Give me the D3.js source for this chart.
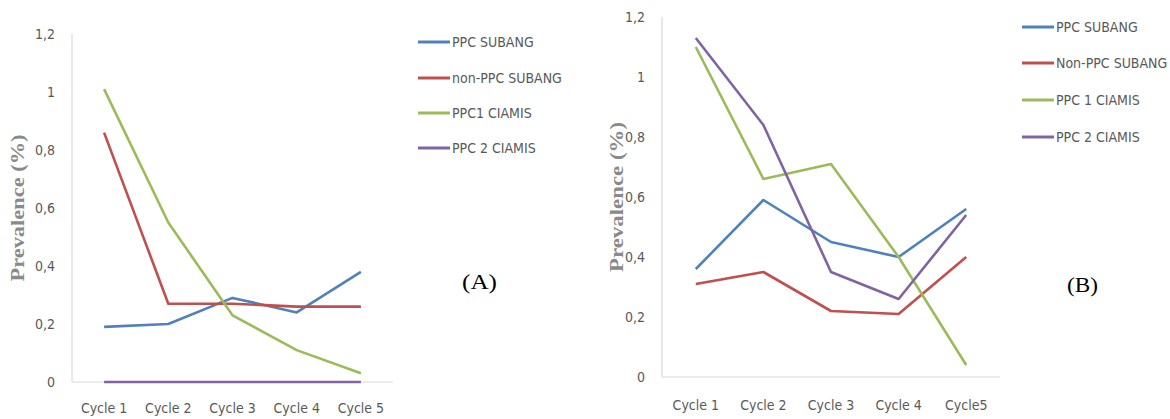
<!DOCTYPE html>
<html>
<head>
<meta charset="utf-8">
<script src="https://cdn.jsdelivr.net/npm/d3@7"></script>
<style>
    html, body { margin: 0; padding: 0; background: #fff; }
    svg { display: block; }
    .tick-label, .legend-label, .cat-label {
        font-family: 'Liberation Sans Narrow', 'DejaVu Sans Condensed', 'Open Sans', sans-serif;
        fill: #595959;
    }
    .y-title { font-family: 'Liberation Serif', 'DejaVu Serif', serif; fill: #8a8a8a; font-weight: bold; }
    .panel-tag { font-family: 'Liberation Serif', 'DejaVu Serif', serif; fill: #000; }
</style>
</head>
<body>
<svg id="chart" width="1170" height="419"></svg>
<script>
const cyclesA = ['Cycle 1', 'Cycle 2', 'Cycle 3', 'Cycle 4', 'Cycle 5'];
const cyclesB = ['Cycle 1', 'Cycle 2', 'Cycle 3', 'Cycle 4', 'Cycle5'];
const yTicks = [0, 0.2, 0.4, 0.6, 0.8, 1, 1.2];

const namesA = ['PPC SUBANG', 'non-PPC SUBANG', 'PPC1 CIAMIS', 'PPC 2 CIAMIS'];
const namesB = ['PPC SUBANG', 'Non-PPC SUBANG', 'PPC 1 CIAMIS', 'PPC 2 CIAMIS'];
const colors = ['#4f81bd', '#c0504d', '#9bbb59', '#8064a2'];

// panel A
const ppcSubangA = [0.19, 0.20, 0.29, 0.24, 0.38];
const nonPpcSubangA = [0.86, 0.27, 0.27, 0.26, 0.26];
const ppc1CiamisA = [1.01, 0.55, 0.23, 0.11, 0.03];
const ppc2CiamisA = [0, 0, 0, 0, 0];

// panel B
const ppcSubangB = [0.36, 0.59, 0.45, 0.40, 0.56];
const nonPpcSubangB = [0.31, 0.35, 0.22, 0.21, 0.40];
const ppc1CiamisB = [1.10, 0.66, 0.71, 0.40, 0.04];
const ppc2CiamisB = [1.13, 0.84, 0.35, 0.26, 0.54];

const svg = d3.select('#chart');
const fmt = v => String(v).replace('.', ',');

function drawPanel(cfg) {
    const g = svg.append('g');

    const x = d3.scaleBand()
        .domain(cfg.cycles)
        .range([cfg.left, cfg.right]);

    const y = d3.scaleLinear()
        .domain([0, 1.2])
        .range([cfg.bottom, cfg.top]);

    g.append('line')
        .attr('x1', cfg.left).attr('x2', cfg.left)
        .attr('y1', y(1.2)).attr('y2', y(0))
        .attr('stroke', '#d9d9d9').attr('stroke-width', 1.2);

    g.append('line')
        .attr('x1', cfg.left).attr('x2', cfg.right)
        .attr('y1', y(0)).attr('y2', y(0))
        .attr('stroke', '#d9d9d9').attr('stroke-width', 1.2);

    g.selectAll('.tick-label')
        .data(yTicks)
        .join('text')
        .attr('class', 'tick-label')
        .attr('x', cfg.left - 17)
        .attr('y', d => y(d))
        .attr('dy', '0.35em')
        .attr('text-anchor', 'end')
        .attr('font-size', 14)
        .text(fmt);

    g.selectAll('.cat-label')
        .data(cfg.cycles)
        .join('text')
        .attr('class', 'cat-label')
        .attr('x', d => x(d) + x.bandwidth() / 2)
        .attr('y', cfg.catY)
        .attr('dy', '0.35em')
        .attr('text-anchor', 'middle')
        .attr('font-size', 14)
        .text(d => d);

    g.append('text')
        .attr('class', 'y-title')
        .attr('transform', `translate(${cfg.titleX},${cfg.titleY}) rotate(-90)`)
        .attr('text-anchor', 'middle')
        .attr('dy', '0.35em')
        .attr('font-size', 18)
        .attr('textLength', cfg.titleLen)
        .attr('lengthAdjust', 'spacingAndGlyphs')
        .text('Prevalence (%)');

    const line = d3.line()
        .x((d, i) => x(cfg.cycles[i]) + x.bandwidth() / 2)
        .y(d => y(d));

    cfg.series.forEach((values, i) => {
        g.append('path')
            .datum(values)
            .attr('fill', 'none')
            .attr('stroke', colors[i])
            .attr('stroke-width', 2.6)
            .attr('stroke-linejoin', 'round')
            .attr('d', line);
    });

    const legend = g.append('g');
    cfg.names.forEach((name, i) => {
        const ly = cfg.legendY[i];
        legend.append('line')
            .attr('x1', cfg.legendX).attr('x2', cfg.legendX + 32)
            .attr('y1', ly).attr('y2', ly)
            .attr('stroke', colors[i])
            .attr('stroke-width', 3);
        legend.append('text')
            .attr('class', 'legend-label')
            .attr('x', cfg.legendX + 34)
            .attr('y', ly)
            .attr('dy', '0.35em')
            .attr('font-size', 14)
            .text(name);
    });

    g.append('text')
        .attr('class', 'panel-tag')
        .attr('x', cfg.tagX)
        .attr('y', cfg.tagY)
        .attr('dy', '0.35em')
        .attr('font-size', 20)
        .attr('textLength', cfg.tagLen)
        .attr('lengthAdjust', 'spacingAndGlyphs')
        .text(cfg.tag);
}

drawPanel({
    cycles: cyclesA,
    names: namesA,
    series: [ppcSubangA, nonPpcSubangA, ppc1CiamisA, ppc2CiamisA],
    left: 72, right: 393, top: 34, bottom: 382,
    catY: 408,
    titleX: 18, titleY: 208, titleLen: 147,
    legendX: 418, legendY: [42, 78, 113, 148],
    tagX: 462, tagY: 282, tagLen: 35, tag: '(A)'
});

drawPanel({
    cycles: cyclesB,
    names: namesB,
    series: [ppcSubangB, nonPpcSubangB, ppc1CiamisB, ppc2CiamisB],
    left: 662, right: 1000, top: 17, bottom: 377,
    catY: 405,
    titleX: 617, titleY: 197, titleLen: 150,
    legendX: 1022, legendY: [27, 63, 100, 137],
    tagX: 1067, tagY: 285, tagLen: 31, tag: '(B)'
});
</script>
</body>
</html>
